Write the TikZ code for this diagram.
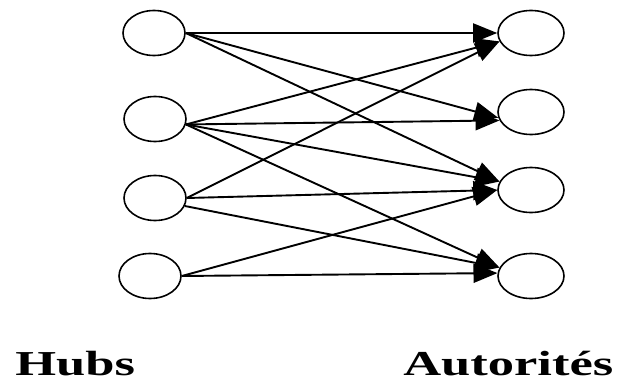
\documentclass[tikz,border=0pt]{standalone}
\usepackage{fontspec}
\setmainfont{Liberation Serif}
\usetikzlibrary{arrows.meta,shapes.geometric}

\begin{document}
\begin{tikzpicture}[x=1pt,y=-1pt,
   hub/.style={ellipse,draw,line width=1.6pt,minimum width=62pt,
     minimum height=45pt,inner sep=0pt},
   auth/.style={hub,minimum width=66pt},
   lnk/.style={line width=1.9pt,-{Triangle[length=24pt,width=19pt]}},
   lbl/.style={font=\fontsize{35}{40}\selectfont\bfseries,xscale=1.5,
     inner sep=0pt,anchor=base west}]
  \useasboundingbox (0,0) rectangle (617,385);
  % hubs
  \node[hub] (h1) at (154,33) {};
  \node[hub] (h2) at (155,119) {};
  \node[hub] (h3) at (155,198) {};
  \node[hub] (h4) at (150,276) {};
  % authorities
  \node[auth] (a1) at (531,33) {};
  \node[auth] (a2) at (531,112) {};
  \node[auth] (a3) at (531,190) {};
  \node[auth] (a4) at (531,276) {};
  % links
  \draw[lnk] (h1.east) -- (a1.west);
  \draw[lnk] (h1.east) -- (a2.190);
  \draw[lnk] (h1.east) -- (a3.165);
  \draw[lnk] (h2.350) -- (a1.195);
  \draw[lnk] (h2.350) -- (a2.195);
  \draw[lnk] (h2.350) -- (a3.165);
  \draw[lnk] (h2.350) -- (a4.165);
  \draw[lnk] (h3.east) -- (a1.195);
  \draw[lnk] (h3.east) -- (a3.west);
  \draw[lnk] (h3.345) -- (a4.165);
  \draw[lnk] (h4.east) -- (a3.west);
  \draw[lnk] (h4.east) -- (a4.175);
  % captions
  \node[lbl] (hubs) at (15,375) {Hubs};
  \node[lbl] (auts) at (403,375) {Autorités};
\end{tikzpicture}
\end{document}
